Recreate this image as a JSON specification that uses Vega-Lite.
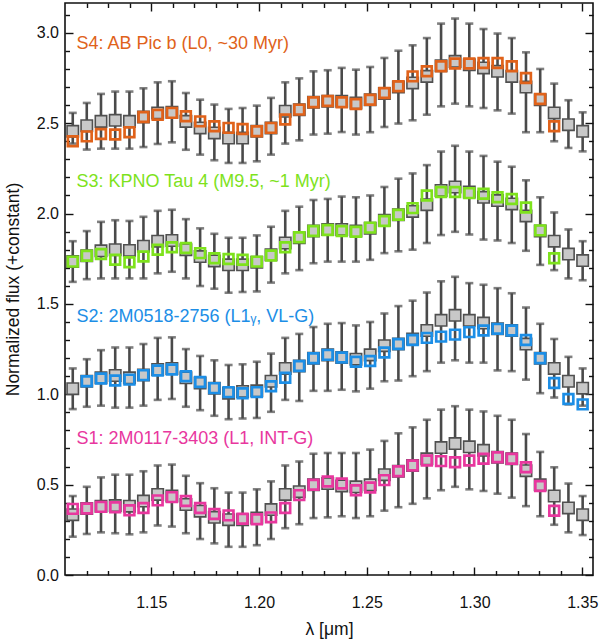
{
  "$schema": "https://vega.github.io/schema/vega-lite/v6.json",
  "width": 528,
  "height": 572,
  "autosize": "none",
  "padding": {"left": 65, "top": 3, "right": 7, "bottom": 64},
  "background": "white",
  "datasets": {
    "spec": [
      {"s": "S4", "l": 1.1136, "g": 2.455, "lo": 2.387, "hi": 2.557, "c": 2.400},
      {"s": "S4", "l": 1.1201, "g": 2.486, "lo": 2.354, "hi": 2.612, "c": 2.427},
      {"s": "S4", "l": 1.1267, "g": 2.510, "lo": 2.359, "hi": 2.662, "c": 2.440},
      {"s": "S4", "l": 1.1333, "g": 2.516, "lo": 2.359, "hi": 2.675, "c": 2.437},
      {"s": "S4", "l": 1.1399, "g": 2.510, "lo": 2.359, "hi": 2.675, "c": 2.450},
      {"s": "S4", "l": 1.1464, "g": 2.534, "lo": 2.368, "hi": 2.693, "c": 2.534},
      {"s": "S4", "l": 1.1530, "g": 2.557, "lo": 2.385, "hi": 2.726, "c": 2.547},
      {"s": "S4", "l": 1.1596, "g": 2.560, "lo": 2.394, "hi": 2.732, "c": 2.557},
      {"s": "S4", "l": 1.1661, "g": 2.510, "lo": 2.353, "hi": 2.667, "c": 2.538},
      {"s": "S4", "l": 1.1727, "g": 2.474, "lo": 2.326, "hi": 2.630, "c": 2.510},
      {"s": "S4", "l": 1.1793, "g": 2.446, "lo": 2.295, "hi": 2.603, "c": 2.483},
      {"s": "S4", "l": 1.1859, "g": 2.418, "lo": 2.280, "hi": 2.579, "c": 2.474},
      {"s": "S4", "l": 1.1924, "g": 2.418, "lo": 2.280, "hi": 2.584, "c": 2.468},
      {"s": "S4", "l": 1.1990, "g": 2.455, "lo": 2.289, "hi": 2.597, "c": 2.455},
      {"s": "S4", "l": 1.2056, "g": 2.474, "lo": 2.326, "hi": 2.640, "c": 2.474},
      {"s": "S4", "l": 1.2122, "g": 2.566, "lo": 2.387, "hi": 2.726, "c": 2.520},
      {"s": "S4", "l": 1.2187, "g": 2.575, "lo": 2.405, "hi": 2.748, "c": 2.575},
      {"s": "S4", "l": 1.2253, "g": 2.616, "lo": 2.437, "hi": 2.787, "c": 2.616},
      {"s": "S4", "l": 1.2319, "g": 2.621, "lo": 2.442, "hi": 2.793, "c": 2.623},
      {"s": "S4", "l": 1.2384, "g": 2.621, "lo": 2.451, "hi": 2.806, "c": 2.616},
      {"s": "S4", "l": 1.2450, "g": 2.612, "lo": 2.437, "hi": 2.796, "c": 2.606},
      {"s": "S4", "l": 1.2516, "g": 2.630, "lo": 2.450, "hi": 2.811, "c": 2.630},
      {"s": "S4", "l": 1.2582, "g": 2.664, "lo": 2.479, "hi": 2.861, "c": 2.667},
      {"s": "S4", "l": 1.2647, "g": 2.700, "lo": 2.498, "hi": 2.901, "c": 2.704},
      {"s": "S4", "l": 1.2713, "g": 2.723, "lo": 2.516, "hi": 2.931, "c": 2.759},
      {"s": "S4", "l": 1.2779, "g": 2.759, "lo": 2.547, "hi": 2.971, "c": 2.787},
      {"s": "S4", "l": 1.2845, "g": 2.818, "lo": 2.593, "hi": 3.051, "c": 2.815},
      {"s": "S4", "l": 1.2910, "g": 2.842, "lo": 2.608, "hi": 3.079, "c": 2.830},
      {"s": "S4", "l": 1.2976, "g": 2.824, "lo": 2.593, "hi": 3.051, "c": 2.830},
      {"s": "S4", "l": 1.3042, "g": 2.806, "lo": 2.584, "hi": 3.021, "c": 2.833},
      {"s": "S4", "l": 1.3107, "g": 2.787, "lo": 2.571, "hi": 2.996, "c": 2.833},
      {"s": "S4", "l": 1.3173, "g": 2.759, "lo": 2.553, "hi": 2.971, "c": 2.815},
      {"s": "S4", "l": 1.3239, "g": 2.700, "lo": 2.450, "hi": 2.892, "c": 2.750},
      {"s": "S4", "l": 1.3305, "g": 2.630, "lo": 2.450, "hi": 2.800, "c": 2.634},
      {"s": "S4", "l": 1.3370, "g": 2.557, "lo": 2.400, "hi": 2.719, "c": 2.483},
      {"s": "S4", "l": 1.3436, "g": 2.492, "lo": 2.363, "hi": 2.627},
      {"s": "S4", "l": 1.3502, "g": 2.455, "lo": 2.344, "hi": 2.560},

      {"s": "S3", "l": 1.1136, "g": 1.734, "lo": 1.622, "hi": 1.847, "c": 1.734},
      {"s": "S3", "l": 1.1201, "g": 1.766, "lo": 1.637, "hi": 1.903, "c": 1.766},
      {"s": "S3", "l": 1.1267, "g": 1.794, "lo": 1.641, "hi": 1.954, "c": 1.776},
      {"s": "S3", "l": 1.1333, "g": 1.800, "lo": 1.641, "hi": 1.963, "c": 1.744},
      {"s": "S3", "l": 1.1399, "g": 1.796, "lo": 1.641, "hi": 1.959, "c": 1.731},
      {"s": "S3", "l": 1.1464, "g": 1.819, "lo": 1.641, "hi": 1.982, "c": 1.762},
      {"s": "S3", "l": 1.1530, "g": 1.847, "lo": 1.669, "hi": 2.015, "c": 1.800},
      {"s": "S3", "l": 1.1596, "g": 1.851, "lo": 1.678, "hi": 2.021, "c": 1.813},
      {"s": "S3", "l": 1.1661, "g": 1.800, "lo": 1.641, "hi": 1.969, "c": 1.809},
      {"s": "S3", "l": 1.1727, "g": 1.762, "lo": 1.599, "hi": 1.918, "c": 1.781},
      {"s": "S3", "l": 1.1793, "g": 1.738, "lo": 1.584, "hi": 1.888, "c": 1.753},
      {"s": "S3", "l": 1.1859, "g": 1.716, "lo": 1.562, "hi": 1.866, "c": 1.749},
      {"s": "S3", "l": 1.1924, "g": 1.716, "lo": 1.566, "hi": 1.866, "c": 1.744},
      {"s": "S3", "l": 1.1990, "g": 1.731, "lo": 1.569, "hi": 1.879, "c": 1.734},
      {"s": "S3", "l": 1.2056, "g": 1.772, "lo": 1.618, "hi": 1.927, "c": 1.768},
      {"s": "S3", "l": 1.2122, "g": 1.837, "lo": 1.669, "hi": 2.015, "c": 1.813},
      {"s": "S3", "l": 1.2187, "g": 1.866, "lo": 1.687, "hi": 2.038, "c": 1.869},
      {"s": "S3", "l": 1.2253, "g": 1.903, "lo": 1.725, "hi": 2.075, "c": 1.903},
      {"s": "S3", "l": 1.2319, "g": 1.912, "lo": 1.734, "hi": 2.081, "c": 1.909},
      {"s": "S3", "l": 1.2384, "g": 1.912, "lo": 1.734, "hi": 2.094, "c": 1.903},
      {"s": "S3", "l": 1.2450, "g": 1.903, "lo": 1.734, "hi": 2.090, "c": 1.899},
      {"s": "S3", "l": 1.2516, "g": 1.918, "lo": 1.744, "hi": 2.100, "c": 1.922},
      {"s": "S3", "l": 1.2582, "g": 1.963, "lo": 1.781, "hi": 2.147, "c": 1.959},
      {"s": "S3", "l": 1.2647, "g": 1.993, "lo": 1.791, "hi": 2.193, "c": 1.993},
      {"s": "S3", "l": 1.2713, "g": 2.012, "lo": 1.800, "hi": 2.222, "c": 2.030},
      {"s": "S3", "l": 1.2779, "g": 2.049, "lo": 1.837, "hi": 2.268, "c": 2.100},
      {"s": "S3", "l": 1.2845, "g": 2.128, "lo": 1.881, "hi": 2.343, "c": 2.119},
      {"s": "S3", "l": 1.2910, "g": 2.147, "lo": 1.899, "hi": 2.375, "c": 2.119},
      {"s": "S3", "l": 1.2976, "g": 2.119, "lo": 1.884, "hi": 2.343, "c": 2.113},
      {"s": "S3", "l": 1.3042, "g": 2.090, "lo": 1.856, "hi": 2.319, "c": 2.109},
      {"s": "S3", "l": 1.3107, "g": 2.072, "lo": 1.851, "hi": 2.287, "c": 2.090},
      {"s": "S3", "l": 1.3173, "g": 2.053, "lo": 1.837, "hi": 2.259, "c": 2.081},
      {"s": "S3", "l": 1.3239, "g": 1.987, "lo": 1.794, "hi": 2.184, "c": 2.034},
      {"s": "S3", "l": 1.3305, "g": 1.903, "lo": 1.716, "hi": 2.090, "c": 1.907},
      {"s": "S3", "l": 1.3370, "g": 1.847, "lo": 1.687, "hi": 2.006, "c": 1.753},
      {"s": "S3", "l": 1.3436, "g": 1.776, "lo": 1.641, "hi": 1.912},
      {"s": "S3", "l": 1.3502, "g": 1.740, "lo": 1.631, "hi": 1.847},

      {"s": "S2", "l": 1.1136, "g": 1.031, "lo": 0.918, "hi": 1.143},
      {"s": "S2", "l": 1.1201, "g": 1.072, "lo": 0.931, "hi": 1.194, "c": 1.072},
      {"s": "S2", "l": 1.1267, "g": 1.091, "lo": 0.937, "hi": 1.244, "c": 1.087},
      {"s": "S2", "l": 1.1333, "g": 1.104, "lo": 0.926, "hi": 1.259, "c": 1.076},
      {"s": "S2", "l": 1.1399, "g": 1.091, "lo": 0.926, "hi": 1.259, "c": 1.081},
      {"s": "S2", "l": 1.1464, "g": 1.106, "lo": 0.937, "hi": 1.278, "c": 1.106},
      {"s": "S2", "l": 1.1530, "g": 1.137, "lo": 0.969, "hi": 1.312, "c": 1.132},
      {"s": "S2", "l": 1.1596, "g": 1.143, "lo": 0.974, "hi": 1.315, "c": 1.137},
      {"s": "S2", "l": 1.1661, "g": 1.091, "lo": 0.931, "hi": 1.250, "c": 1.100},
      {"s": "S2", "l": 1.1727, "g": 1.062, "lo": 0.912, "hi": 1.212, "c": 1.068},
      {"s": "S2", "l": 1.1793, "g": 1.034, "lo": 0.881, "hi": 1.188, "c": 1.034},
      {"s": "S2", "l": 1.1859, "g": 1.006, "lo": 0.862, "hi": 1.162, "c": 1.012},
      {"s": "S2", "l": 1.1924, "g": 1.016, "lo": 0.866, "hi": 1.166, "c": 1.006},
      {"s": "S2", "l": 1.1990, "g": 1.019, "lo": 0.869, "hi": 1.180, "c": 1.012},
      {"s": "S2", "l": 1.2056, "g": 1.072, "lo": 0.903, "hi": 1.225, "c": 1.044},
      {"s": "S2", "l": 1.2122, "g": 1.143, "lo": 0.969, "hi": 1.312, "c": 1.091},
      {"s": "S2", "l": 1.2187, "g": 1.156, "lo": 0.963, "hi": 1.334, "c": 1.156},
      {"s": "S2", "l": 1.2253, "g": 1.199, "lo": 1.019, "hi": 1.372, "c": 1.199},
      {"s": "S2", "l": 1.2319, "g": 1.218, "lo": 1.019, "hi": 1.390, "c": 1.218},
      {"s": "S2", "l": 1.2384, "g": 1.203, "lo": 1.025, "hi": 1.394, "c": 1.203},
      {"s": "S2", "l": 1.2450, "g": 1.194, "lo": 1.016, "hi": 1.381, "c": 1.180},
      {"s": "S2", "l": 1.2516, "g": 1.218, "lo": 1.031, "hi": 1.400, "c": 1.184},
      {"s": "S2", "l": 1.2582, "g": 1.269, "lo": 1.072, "hi": 1.447, "c": 1.231},
      {"s": "S2", "l": 1.2647, "g": 1.278, "lo": 1.076, "hi": 1.488, "c": 1.278},
      {"s": "S2", "l": 1.2713, "g": 1.306, "lo": 1.100, "hi": 1.518, "c": 1.300},
      {"s": "S2", "l": 1.2779, "g": 1.353, "lo": 1.128, "hi": 1.563, "c": 1.312},
      {"s": "S2", "l": 1.2845, "g": 1.409, "lo": 1.175, "hi": 1.625, "c": 1.319},
      {"s": "S2", "l": 1.2910, "g": 1.437, "lo": 1.188, "hi": 1.650, "c": 1.330},
      {"s": "S2", "l": 1.2976, "g": 1.409, "lo": 1.175, "hi": 1.615, "c": 1.344},
      {"s": "S2", "l": 1.3042, "g": 1.394, "lo": 1.175, "hi": 1.606, "c": 1.353},
      {"s": "S2", "l": 1.3107, "g": 1.362, "lo": 1.132, "hi": 1.587, "c": 1.362},
      {"s": "S2", "l": 1.3173, "g": 1.353, "lo": 1.128, "hi": 1.559, "c": 1.353},
      {"s": "S2", "l": 1.3239, "g": 1.278, "lo": 1.081, "hi": 1.480, "c": 1.300},
      {"s": "S2", "l": 1.3305, "g": 1.199, "lo": 1.006, "hi": 1.390, "c": 1.199},
      {"s": "S2", "l": 1.3370, "g": 1.143, "lo": 0.982, "hi": 1.306, "c": 1.062},
      {"s": "S2", "l": 1.3436, "g": 1.072, "lo": 0.944, "hi": 1.207, "c": 0.974},
      {"s": "S2", "l": 1.3502, "g": 1.034, "lo": 0.937, "hi": 1.143, "c": 0.944},

      {"s": "S1", "l": 1.1136, "g": 0.334, "lo": 0.212, "hi": 0.437, "c": 0.366},
      {"s": "S1", "l": 1.1201, "g": 0.368, "lo": 0.227, "hi": 0.488, "c": 0.368},
      {"s": "S1", "l": 1.1267, "g": 0.381, "lo": 0.236, "hi": 0.540, "c": 0.377},
      {"s": "S1", "l": 1.1333, "g": 0.384, "lo": 0.231, "hi": 0.555, "c": 0.375},
      {"s": "S1", "l": 1.1399, "g": 0.381, "lo": 0.225, "hi": 0.555, "c": 0.358},
      {"s": "S1", "l": 1.1464, "g": 0.409, "lo": 0.236, "hi": 0.574, "c": 0.371},
      {"s": "S1", "l": 1.1530, "g": 0.446, "lo": 0.274, "hi": 0.606, "c": 0.413},
      {"s": "S1", "l": 1.1596, "g": 0.437, "lo": 0.268, "hi": 0.611, "c": 0.431},
      {"s": "S1", "l": 1.1661, "g": 0.390, "lo": 0.231, "hi": 0.549, "c": 0.409},
      {"s": "S1", "l": 1.1727, "g": 0.353, "lo": 0.199, "hi": 0.508, "c": 0.371},
      {"s": "S1", "l": 1.1793, "g": 0.319, "lo": 0.175, "hi": 0.480, "c": 0.338},
      {"s": "S1", "l": 1.1859, "g": 0.306, "lo": 0.156, "hi": 0.456, "c": 0.330},
      {"s": "S1", "l": 1.1924, "g": 0.306, "lo": 0.156, "hi": 0.456, "c": 0.311},
      {"s": "S1", "l": 1.1990, "g": 0.315, "lo": 0.165, "hi": 0.474, "c": 0.309},
      {"s": "S1", "l": 1.2056, "g": 0.362, "lo": 0.199, "hi": 0.518, "c": 0.319},
      {"s": "S1", "l": 1.2122, "g": 0.446, "lo": 0.259, "hi": 0.606, "c": 0.371},
      {"s": "S1", "l": 1.2187, "g": 0.461, "lo": 0.281, "hi": 0.628, "c": 0.442},
      {"s": "S1", "l": 1.2253, "g": 0.499, "lo": 0.315, "hi": 0.671, "c": 0.499},
      {"s": "S1", "l": 1.2319, "g": 0.506, "lo": 0.319, "hi": 0.675, "c": 0.517},
      {"s": "S1", "l": 1.2384, "g": 0.493, "lo": 0.325, "hi": 0.675, "c": 0.506},
      {"s": "S1", "l": 1.2450, "g": 0.488, "lo": 0.315, "hi": 0.675, "c": 0.469},
      {"s": "S1", "l": 1.2516, "g": 0.499, "lo": 0.325, "hi": 0.694, "c": 0.484},
      {"s": "S1", "l": 1.2582, "g": 0.555, "lo": 0.356, "hi": 0.742, "c": 0.525},
      {"s": "S1", "l": 1.2647, "g": 0.574, "lo": 0.375, "hi": 0.784, "c": 0.574},
      {"s": "S1", "l": 1.2713, "g": 0.606, "lo": 0.394, "hi": 0.817, "c": 0.606},
      {"s": "S1", "l": 1.2779, "g": 0.643, "lo": 0.424, "hi": 0.859, "c": 0.634},
      {"s": "S1", "l": 1.2845, "g": 0.705, "lo": 0.469, "hi": 0.915, "c": 0.630},
      {"s": "S1", "l": 1.2910, "g": 0.727, "lo": 0.488, "hi": 0.934, "c": 0.624},
      {"s": "S1", "l": 1.2976, "g": 0.709, "lo": 0.474, "hi": 0.915, "c": 0.634},
      {"s": "S1", "l": 1.3042, "g": 0.690, "lo": 0.465, "hi": 0.905, "c": 0.643},
      {"s": "S1", "l": 1.3107, "g": 0.652, "lo": 0.450, "hi": 0.881, "c": 0.652},
      {"s": "S1", "l": 1.3173, "g": 0.643, "lo": 0.428, "hi": 0.859, "c": 0.643},
      {"s": "S1", "l": 1.3239, "g": 0.577, "lo": 0.381, "hi": 0.780, "c": 0.596},
      {"s": "S1", "l": 1.3305, "g": 0.499, "lo": 0.325, "hi": 0.681, "c": 0.493},
      {"s": "S1", "l": 1.3370, "g": 0.437, "lo": 0.278, "hi": 0.596, "c": 0.356},
      {"s": "S1", "l": 1.3436, "g": 0.371, "lo": 0.236, "hi": 0.506},
      {"s": "S1", "l": 1.3502, "g": 0.334, "lo": 0.221, "hi": 0.437}
    ],
    "labels": [
      {"s": "S4", "t": "S4: AB Pic b (L0, ~30 Myr)", "l": 1.1153, "y": 2.911},
      {"s": "S3", "t": "S3: KPNO Tau 4 (M9.5, ~1 Myr)", "l": 1.1153, "y": 2.148},
      {"s": "S2", "t": "S2: 2M0518-2756 (L1ᵧ, VL-G)", "l": 1.1153, "y": 1.400},
      {"s": "S1", "t": "S1: 2M0117-3403 (L1, INT-G)", "l": 1.1153, "y": 0.727}
    ]
  },
  "resolve": {"axis": {"x": "independent", "y": "independent"}},
  "layer": [
    {
      "data": {"name": "spec"},
      "mark": {"type": "rule", "color": "#4a4a4a", "strokeWidth": 2.6},
      "encoding": {
        "x": {
          "field": "l", "type": "quantitative",
          "scale": {"domain": [1.11, 1.355], "nice": false, "zero": false},
          "axis": {"orient": "bottom", "values": [1.15, 1.2, 1.25, 1.3, 1.35], "format": ".2f",
                   "tickSize": -8, "labelPadding": 27, "title": "λ [μm]", "titlePadding": 10}
        },
        "y": {
          "field": "lo", "type": "quantitative",
          "scale": {"domain": [0, 3.165], "nice": false, "zero": false},
          "axis": {"orient": "left", "values": [0, 0.5, 1, 1.5, 2, 2.5, 3], "format": ".1f",
                   "tickSize": -8, "labelPadding": 14.5, "title": "Normalized flux (+constant)", "titlePadding": 14}
        },
        "y2": {"field": "hi"}
      }
    },
    {
      "data": {"name": "spec"},
      "mark": {"type": "tick", "orient": "horizontal", "color": "#4a4a4a", "size": 8, "thickness": 2.6},
      "encoding": {
        "x": {"field": "l", "type": "quantitative",
              "axis": {"orient": "bottom", "values": [1.12, 1.13, 1.14, 1.16, 1.17, 1.18, 1.19, 1.21, 1.22, 1.23, 1.24, 1.26, 1.27, 1.28, 1.29, 1.31, 1.32, 1.33, 1.34],
                       "tickSize": -4.5, "labels": false, "title": null}},
        "y": {"field": "lo", "type": "quantitative",
              "axis": {"orient": "left", "values": [0.1, 0.2, 0.3, 0.4, 0.6, 0.7, 0.8, 0.9, 1.1, 1.2, 1.3, 1.4, 1.6, 1.7, 1.8, 1.9, 2.1, 2.2, 2.3, 2.4, 2.6, 2.7, 2.8, 2.9, 3.1],
                       "tickSize": -4.5, "labels": false, "title": null}}
      }
    },
    {
      "data": {"name": "spec"},
      "mark": {"type": "tick", "orient": "horizontal", "color": "#4a4a4a", "size": 8, "thickness": 2.6},
      "encoding": {
        "x": {"field": "l", "type": "quantitative",
              "axis": {"orient": "top", "values": [1.15, 1.2, 1.25, 1.3, 1.35], "tickSize": -8, "labels": false, "title": null}},
        "y": {"field": "hi", "type": "quantitative",
              "axis": {"orient": "right", "values": [0, 0.5, 1, 1.5, 2, 2.5, 3], "tickSize": -8, "labels": false, "title": null}}
      }
    },
    {
      "data": {"name": "spec"},
      "mark": {"type": "square", "filled": true, "fill": "#c8c8c8", "stroke": "#505050", "strokeWidth": 1.6, "size": 130, "opacity": 1},
      "encoding": {
        "x": {"field": "l", "type": "quantitative",
              "axis": {"orient": "top", "values": [1.12, 1.13, 1.14, 1.16, 1.17, 1.18, 1.19, 1.21, 1.22, 1.23, 1.24, 1.26, 1.27, 1.28, 1.29, 1.31, 1.32, 1.33, 1.34],
                       "tickSize": -4.5, "labels": false, "title": null}},
        "y": {"field": "g", "type": "quantitative",
              "axis": {"orient": "right", "values": [0.1, 0.2, 0.3, 0.4, 0.6, 0.7, 0.8, 0.9, 1.1, 1.2, 1.3, 1.4, 1.6, 1.7, 1.8, 1.9, 2.1, 2.2, 2.3, 2.4, 2.6, 2.7, 2.8, 2.9, 3.1],
                       "tickSize": -4.5, "labels": false, "title": null}}
      }
    },
    {
      "data": {"name": "spec"},
      "transform": [{"filter": "isValid(datum.c)"}],
      "mark": {"type": "square", "filled": false, "strokeWidth": 2.7, "size": 95, "opacity": 1},
      "encoding": {
        "x": {"field": "l", "type": "quantitative", "axis": null},
        "y": {"field": "c", "type": "quantitative", "axis": null},
        "color": {"field": "s", "type": "nominal", "legend": null,
                  "scale": {"domain": ["S1", "S2", "S3", "S4"], "range": ["#e8379e", "#1c8ee6", "#7ee21c", "#e0621a"]}}
      }
    },
    {
      "data": {"name": "labels"},
      "mark": {"type": "text", "align": "left", "baseline": "alphabetic", "fontSize": 18, "font": "Liberation Sans"},
      "encoding": {
        "x": {"field": "l", "type": "quantitative", "axis": null},
        "y": {"field": "y", "type": "quantitative", "axis": null},
        "text": {"field": "t"},
        "color": {"field": "s", "type": "nominal", "legend": null}
      }
    }
  ],
  "config": {
    "view": {"stroke": "#111", "strokeWidth": 1.6},
    "axis": {
      "domain": false, "grid": false, "ticks": true, "tickColor": "#111", "tickWidth": 1.4, "zindex": 1,
      "labelFont": "Liberation Sans", "titleFont": "Liberation Sans",
      "labelColor": "#111", "titleColor": "#111",
      "labelFontSize": 16, "titleFontSize": 17.5, "titleFontWeight": "normal"
    }
  }
}
